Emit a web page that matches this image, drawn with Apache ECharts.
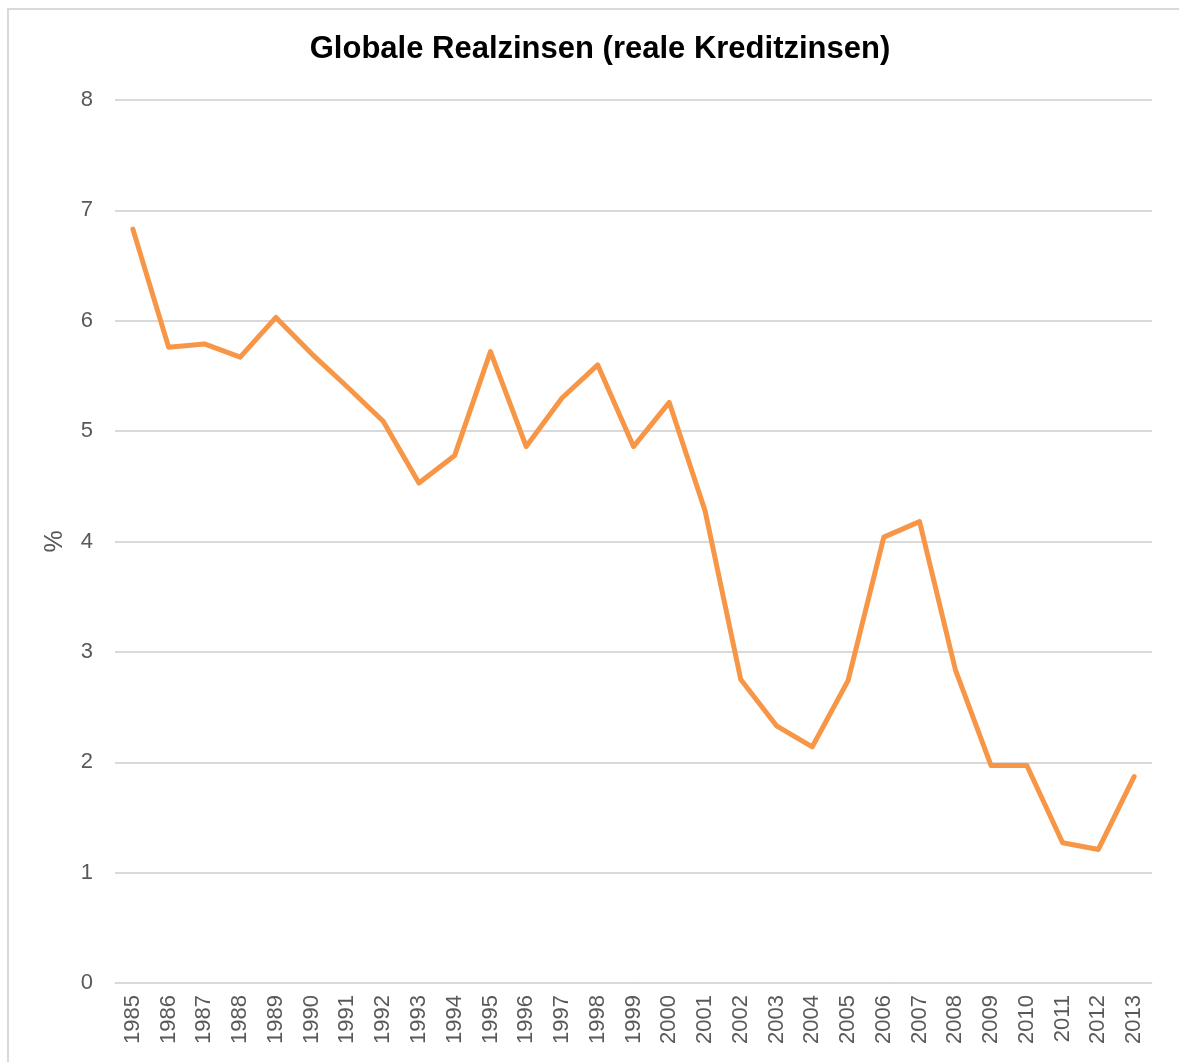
<!DOCTYPE html>
<html>
<head>
<meta charset="utf-8">
<script src="https://cdn.jsdelivr.net/npm/echarts@6/dist/echarts.min.js"></script>
<style>
    html, body { margin: 0; padding: 0; background: #fff; }
    #chart { width: 1179px; height: 1062px; }
</style>
</head>
<body>
<div id="chart"></div>
<script>
// Jahre (x-Achse)
var years = ['1985','1986','1987','1988','1989','1990','1991','1992','1993','1994',
             '1995','1996','1997','1998','1999','2000','2001','2002','2003','2004',
             '2005','2006','2007','2008','2009','2010','2011','2012','2013']
// reale Kreditzinsen in %
var rates = [6.83, 5.76, 5.79, 5.67, 6.03, 5.70, 5.40, 5.09, 4.53, 4.78,
             5.72, 4.86, 5.30, 5.60, 4.86, 5.26, 4.28, 2.75, 2.33, 2.14,
             2.74, 4.04, 4.18, 2.84, 1.97, 1.97, 1.27, 1.21, 1.87]

var myChart = echarts.init(document.getElementById('chart'))
var option = {
    animation: false,
    backgroundColor: '#fff',
    textStyle: { fontFamily: 'Liberation Sans, Arial, sans-serif' },
    title: {
        text: 'Globale Realzinsen (reale Kreditzinsen)',
        left: 595,
        textAlign: 'center',
        top: 29,
        textStyle: { color: '#000', fontSize: 31, fontWeight: 'bold', fontFamily: 'Liberation Sans, Arial, sans-serif' }
    },
    // Rahmen um das Diagramm
    graphic: [{
        type: 'rect',
        shape: { x: 8, y: 9, width: 1300, height: 1200 },
        style: { fill: 'none', stroke: '#d9d9d9', lineWidth: 2 },
        silent: true
    }],
    grid: {
        left: 115,
        right: 27,
        top: 100,
        bottom: 79
    },
    xAxis: {
        type: 'category',
        boundaryGap: true,
        data: years,
        axisLine: { show: true, lineStyle: { color: '#d9d9d9', width: 1 } },
        axisTick: { show: false },
        axisLabel: {
            rotate: 90,
            interval: 0,
            margin: 12,
            color: '#595959',
            fontSize: 22
        }
    },
    yAxis: {
        type: 'value',
        min: 0,
        max: 8,
        interval: 1,
        name: '%',
        nameLocation: 'middle',
        nameRotate: 90,
        nameGap: 47,
        nameTextStyle: { color: '#595959', fontSize: 25 },
        axisLine: { show: false },
        axisTick: { show: false },
        axisLabel: { color: '#595959', fontSize: 22, margin: 22 },
        splitLine: { lineStyle: { color: '#d9d9d9', width: 2 } }
    },
    series: [{
        name: 'Realzins',
        type: 'line',
        data: rates,
        symbol: 'none',
        lineStyle: { color: '#f79646', width: 5, cap: 'round', join: 'round' },
        itemStyle: { color: '#f79646' }
    }]
}
myChart.setOption(option)
</script>
</body>
</html>
